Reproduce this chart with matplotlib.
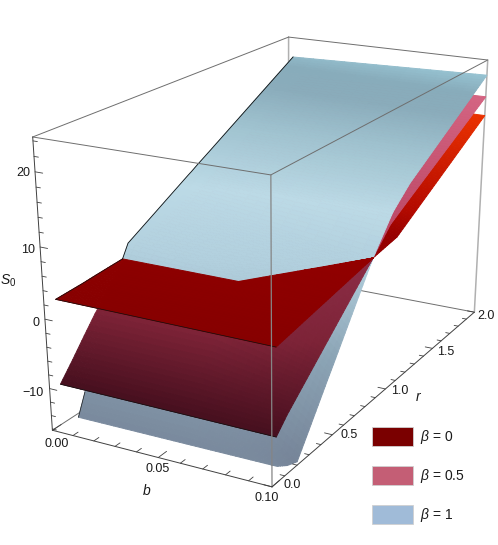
import numpy as np
import matplotlib
matplotlib.use('Agg')
import matplotlib.pyplot as plt
from matplotlib.patches import Patch
from mpl_toolkits.mplot3d.art3d import Poly3DCollection

plt.rcParams['font.family'] = ['Liberation Sans', 'DejaVu Sans']
plt.rcParams['mathtext.fontset'] = 'custom'
plt.rcParams['mathtext.rm'] = 'Liberation Sans'
plt.rcParams['mathtext.it'] = 'Liberation Sans:italic'

# donnees
b_lim = (0.0, 0.1)
r_lim = (0.0, 2.0)
s_lim = (-16.2, 24.5)

r_levels = [0.034, 0.118, 0.2, 0.277, 0.45, 0.5, 0.7, 0.843, 1.0, 1.024, 1.072, 1.186, 2.0]
b_mid = [0.0607, 0.0607, 0.0607, 0.0607, 0.0607, 0.0657, 0.0857, 0.1, 0.1, 0.1, 0.1, 0.1, 0.1]

red_b_left = [0.0032, 0.0039, 0.0046, 0.0052, 0.0066, 0.0066, 0.0066, 0.0066, 0.0066, 0.0066, 0.0066, 0.0066, 0.0066]
red_s_left = [2.6, 2.85, 3.1, 3.38, 3.96, 4.14, 4.84, 5.35, 5.8, 5.87, 6.0, 7.23, 16.0]
red_s_mid = [2.55, 2.8, 3.08, 3.36, 3.96, 4.14, 4.84, 5.35, 5.8, 5.87, 6.0, 7.23, 16.0]
red_s_right = [2.5, 2.8, 3.08, 3.36, 3.96, 4.14, 4.84, 5.35, 5.8, 5.87, 6.0, 7.23, 16.0]

pink_b_left = [0.0029, 0.0033, 0.0036, 0.0039, 0.0075, 0.0075, 0.0075, 0.0075, 0.0075, 0.0075, 0.0075, 0.0075, 0.0075]
pink_s_left = [-9.6, -7.1, -4.6, -2.3, 3.96, 4.9, 6.3, 7.3, 8.5, 8.7, 9.1, 10.0, 18.7]
pink_s_mid = [-9.65, -7.1, -4.6, -2.3, 3.96, 4.14, 4.84, 5.35, 8.48, 8.74, 9.25, 10.45, 18.9]
pink_s_right = [-9.7, -7.84, -6.35, -4.95, -1.8, -0.89, 2.75, 5.35, 8.48, 8.74, 9.25, 10.45, 18.9]

blue_b_left = [0.0107, 0.0084, 0.0075, 0.007, 0.0066, 0.0062, 0.0057, 0.0053, 0.0049, 0.0049, 0.0047, 0.0045, 0.0024]
blue_s_left = [-13.9, -11.5, -7.7, -4.1, 3.96, 5.7, 7.8, 9.3, 10.95, 11.2, 11.7, 12.9, 21.4]
blue_s_mid = [-13.85, -11.5, -7.7, -4.1, 3.96, 4.14, 4.84, 5.35, 9.5, 10.09, 10.9, 12.74, 22.2]
blue_s_right = [-13.8, -15.0, -15.7, -13.2, -7.5, -5.9, 0.66, 5.35, 9.5, 10.09, 10.9, 12.74, 22.2]

labels = ['$\\mathit{\\beta}$ = 0', '$\\mathit{\\beta}$ = 0.5', '$\\mathit{\\beta}$ = 1']
swatches = ['#7a0000', '#c45e75', '#a0bbd8']

b_major = [0.0, 0.05, 0.1]
b_minor = [0.01, 0.02, 0.03, 0.04, 0.06, 0.07, 0.08, 0.09]
r_major = [0.0, 0.5, 1.0, 1.5, 2.0]
r_minor = [0.1, 0.2, 0.3, 0.4, 0.6, 0.7, 0.8, 0.9, 1.1, 1.2, 1.3, 1.4, 1.6, 1.7, 1.8, 1.9]
s_major = [-10, 0, 10, 20]
s_minor = [-16, -14, -12, -8, -6, -4, -2, 2, 4, 6, 8, 12, 14, 16, 18, 22, 24]

# couleur selon la hauteur S
red_cs = ([2.5, 6, 8, 16], [(135, 0, 0), (150, 0, 0), (180, 10, 0), (235, 50, 0)])
pink_cs = ([-9.7, -2, 5, 6.5, 19], [(70, 15, 30), (125, 35, 55), (140, 45, 70), (185, 70, 100), (212, 100, 130)])
blue_cs = ([-15.7, -5, 5, 10, 15, 18.5, 20.5, 22.3],
           [(118, 132, 152), (140, 165, 182), (178, 208, 222), (188, 218, 230), (160, 195, 208),
            (138, 172, 187), (136, 172, 187), (152, 197, 212)])

fig = plt.figure(figsize=(4.98, 5.45), dpi=100)
ax = fig.add_axes([0, 0, 1, 1], projection='3d', computed_zorder=False)
ax.set_axis_off()
ax.apply_aspect()

# coins de la boite en pixels -> matrice de projection
corners = {(0, 0, 0): (52, 430), (1, 0, 0): (272, 487), (1, 1, 0): (474, 312), (0, 1, 0): (289, 277),
           (0, 0, 1): (33, 137), (1, 0, 1): (271, 175), (1, 1, 1): (488, 60), (0, 1, 1): (288, 37)}
to_data = ax.transData.inverted()
rows = []
for (u, v, w), (px, py) in corners.items():
    x, y = to_data.transform((px, 545 - py))
    rows.append([u, v, w, 1, 0, 0, 0, 0, -x * u, -x * v, -x * w, -x])
    rows.append([0, 0, 0, 0, u, v, w, 1, -y * u, -y * v, -y * w, -y])
P = np.linalg.svd(np.array(rows))[2][-1].reshape(3, 4)
if (P @ np.array([.5, .5, .5, 1]))[2] < 0:
    P = -P
T = np.array([[1 / (b_lim[1] - b_lim[0]), 0, 0, -b_lim[0] / (b_lim[1] - b_lim[0])],
              [0, 1 / (r_lim[1] - r_lim[0]), 0, -r_lim[0] / (r_lim[1] - r_lim[0])],
              [0, 0, 1 / (s_lim[1] - s_lim[0]), -s_lim[0] / (s_lim[1] - s_lim[0])],
              [0, 0, 0, 1]])
M = np.array([P[0], P[1], [0, 0, 0, -1], P[2]]) @ T
ax.get_proj = lambda: M


def height(surf, b, r):
    bl = np.interp(r, r_levels, surf['b_left'])
    bm = np.interp(r, r_levels, b_mid)
    sl = np.interp(r, r_levels, surf['s_left'])
    sm = np.interp(r, r_levels, surf['s_mid'])
    sr = np.interp(r, r_levels, surf['s_right'])
    t1 = np.clip((b - bl) / np.maximum(bm - bl, 1e-9), 0, 1)
    t2 = np.clip((b - bm) / np.maximum(0.1 - bm, 1e-9), 0, 1)
    return np.where(b < bm, sl + t1 * (sm - sl), sm + t2 * (sr - sm))


surfaces = [
    {'b_left': red_b_left, 's_left': red_s_left, 's_mid': red_s_mid, 's_right': red_s_right, 'cs': red_cs},
    {'b_left': pink_b_left, 's_left': pink_s_left, 's_mid': pink_s_mid, 's_right': pink_s_right, 'cs': pink_cs},
    {'b_left': blue_b_left, 's_left': blue_s_left, 's_mid': blue_s_mid, 's_right': blue_s_right, 'cs': blue_cs},
]

# maillage fin pour le degrade
r_fine = [r_levels[0]]
for i in range(len(r_levels) - 1):
    n = int(np.ceil((r_levels[i + 1] - r_levels[i]) / 0.02))
    r_fine += list(np.linspace(r_levels[i], r_levels[i + 1], n + 1)[1:])
r_fine = np.array(r_fine)
t_fine = np.linspace(0, 1, 19)

polys = {0: [], 1: [], 2: []}
cols = {0: [], 1: [], 2: []}
for k, surf in enumerate(surfaces):
    bl = np.interp(r_fine, r_levels, surf['b_left'])
    bm = np.interp(r_fine, r_levels, b_mid)
    sl = np.interp(r_fine, r_levels, surf['s_left'])
    sm = np.interp(r_fine, r_levels, surf['s_mid'])
    sr = np.interp(r_fine, r_levels, surf['s_right'])
    bb = np.vstack([np.outer(bl, 1 - t_fine) + np.outer(bm, t_fine),
                    np.outer(bm, 1 - t_fine) + np.outer(np.full_like(bm, 0.1), t_fine)]).reshape(2, len(r_fine), -1)
    ss = np.vstack([np.outer(sl, 1 - t_fine) + np.outer(sm, t_fine),
                    np.outer(sm, 1 - t_fine) + np.outer(sr, t_fine)]).reshape(2, len(r_fine), -1)
    stops, rgb = surf['cs']
    rgb = np.array(rgb) / 255
    for part in range(2):
        for i in range(len(r_fine) - 1):
            for j in range(len(t_fine) - 1):
                b4 = [bb[part, i, j], bb[part, i, j + 1], bb[part, i + 1, j + 1], bb[part, i + 1, j]]
                if b4[1] - b4[0] < 1e-9 and b4[2] - b4[3] < 1e-9:
                    continue
                s4 = [ss[part, i, j], ss[part, i, j + 1], ss[part, i + 1, j + 1], ss[part, i + 1, j]]
                r4 = [r_fine[i], r_fine[i], r_fine[i + 1], r_fine[i + 1]]
                bc, rc, sc = np.mean(b4), np.mean(r4), np.mean(s4)
                rank = 0
                for m, other in enumerate(surfaces):
                    if m != k and float(height(other, bc, rc)) < sc:
                        rank += 1
                polys[rank].append(list(zip(b4, r4, s4)))
                cols[rank].append([np.interp(sc, stops, rgb[:, c]) for c in range(3)])

for rank in polys:
    pc = Poly3DCollection(polys[rank], facecolors=cols[rank], edgecolors=cols[rank], linewidths=0.7,
                          zorder=10 + rank)
    ax.add_collection3d(pc, autolim=False)

# boite
b0, b1 = b_lim
r0, r1 = r_lim
s0, s1 = s_lim


def edge(p, q, color='#6e6e6e', lw=0.7, z=1):
    ax.plot([p[0], q[0]], [p[1], q[1]], [p[2], q[2]], color=color, lw=lw, zorder=z, solid_capstyle='round')


edge((b0, r0, s0), (b0, r1, s0))
edge((b0, r1, s0), (b1, r1, s0))
edge((b0, r1, s0), (b0, r1, s1), color='#b0b0b0', lw=1.1)
edge((b0, r0, s1), (b0, r1, s1))
edge((b0, r1, s1), (b1, r1, s1))
edge((b1, r1, s0), (b1, r1, s1), color='#b0b0b0', lw=1.1)
edge((b0, r0, s1), (b1, r0, s1), z=20)
edge((b1, r0, s1), (b1, r1, s1), z=20)
edge((b1, r0, s0), (b1, r0, s1), color='#858585', lw=0.9, z=20)
edge((b0, r0, s0), (b1, r0, s0), color='#404040', z=20)
edge((b1, r0, s0), (b1, r1, s0), color='#404040', z=20)
edge((b0, r0, s0), (b0, r0, s1), color='#404040', z=20)

# graduations
for v, n in [(x, 0.06) for x in b_major] + [(x, 0.035) for x in b_minor]:
    edge((v, r0, s0), (v, r0 + n, s0), color='#404040', lw=0.6, z=20)
for v, n in [(x, 0.0035) for x in r_major] + [(x, 0.002) for x in r_minor]:
    edge((b1, v, s0), (b1 - n, v, s0), color='#404040', lw=0.6, z=20)
for v, n in [(x, 0.0035) for x in s_major] + [(x, 0.002) for x in s_minor]:
    edge((b0, r0, v), (b0 + n, r0, v), color='#404040', lw=0.6, z=20)

# bords noirs des surfaces
ax.plot(red_b_left[:5], r_levels[:5], red_s_left[:5], color='#101010', lw=0.5, zorder=15)
ax.plot([red_b_left[0], 0.1], [r_levels[0]] * 2, [red_s_left[0], red_s_right[0]], color='#101010', lw=0.5, zorder=15)
ax.plot([pink_b_left[0], 0.1], [r_levels[0]] * 2, [pink_s_left[0], pink_s_right[0]], color='#101010', lw=0.5, zorder=15)
ax.plot(blue_b_left[:2], r_levels[:2], blue_s_left[:2], color='#202020', lw=0.5, zorder=11)
ax.plot(blue_b_left[4:], r_levels[4:], blue_s_left[4:], color='#101010', lw=0.6, zorder=15)


def txt(px, py, s, size=9, **kw):
    fig.text(px / 498, 1 - py / 545, s, ha='center', va='center', fontsize=size, color='#1a1a1a', **kw)


for px, py, s in [(57, 444, '0.00'), (158, 469, '0.05'), (267, 498, '0.10'),
                  (292, 485, '0.0'), (349, 435, '0.5'), (400, 391, '1.0'), (446, 352, '1.5'), (486, 316, '2.0'),
                  (23, 173, '20'), (28, 250, '10'), (36, 323, '0'), (33, 393, '\u221210')]:
    txt(px, py, s)
txt(147, 491, 'b', size=10, style='italic')
txt(418, 397, 'r', size=10, style='italic')
txt(8, 281, '$\\mathit{S}_0$', size=10)

handles = [Patch(facecolor=c, edgecolor='#d0d0d0', lw=0.6, label=l) for c, l in zip(swatches, labels)]
fig.legend(handles=handles, loc='lower left', bbox_to_anchor=(372 / 498, 1 - 524 / 545), frameon=False,
           fontsize=10, handlelength=2.95, handleheight=1.73, labelspacing=1.45, handletextpad=0.5, borderpad=0,
           borderaxespad=0, labelcolor='#1a1a1a')

fig.savefig('out.png', dpi=100)
